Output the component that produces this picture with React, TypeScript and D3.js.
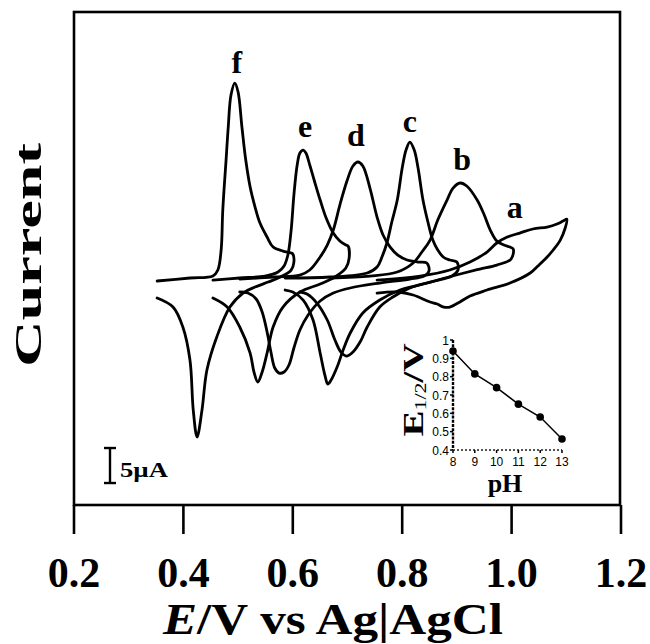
import React from "react";
import * as d3 from "d3";

// potential (V) and current (µA), forward scan then reverse scan
const aE = [0.754, 0.833, 0.887, 0.924, 0.955, 0.973, 0.992, 1.015, 1.039, 1.065, 1.083, 1.094, 1.101,
  1.098, 1.089, 1.076, 1.065, 1.048, 1.034, 0.997, 0.955, 0.924, 0.902, 0.887, 0.876, 0.864, 0.851, 0.82, 0.791, 0.754];
const aI = [0, 0.57, 1.43, 2.57, 4.0, 5.29, 6.14, 6.71, 7.29, 7.57, 8.0, 8.43, 8.71,
  7.43, 5.71, 4.29, 3.29, 2.0, 1.0, -0.43, -1.43, -2.29, -3.29, -3.86, -3.86, -3.43, -3.14, -2.14, -1.71, -1.86];

const bE = [0.668, 0.741, 0.791, 0.82, 0.836, 0.851, 0.865, 0.882, 0.893, 0.906, 0.918, 0.937, 0.95, 0.961, 0.973, 0.986, 0.997, 1.003,
  0.999, 0.973, 0.942, 0.906, 0.851, 0.814, 0.783, 0.759, 0.736, 0.723, 0.71, 0.699, 0.688, 0.677, 0.663, 0.644, 0.626, 0.613];
const bI = [0.29, 0.57, 1.14, 2.43, 4.0, 5.71, 8.57, 11.43, 13.14, 13.86, 13.43, 11.43, 9.29, 7.14, 5.57, 5.0, 4.71, 4.43,
  3.0, 2.14, 1.57, 0.86, -0.29, -1.14, -2.43, -3.86, -6.71, -8.86, -10.29, -10.86, -10.29, -8.57, -5.71, -3.29, -2.0, -1.71];

const cE = [0.586, 0.668, 0.736, 0.754, 0.763, 0.772, 0.781, 0.791, 0.8, 0.807, 0.814, 0.822, 0.829, 0.838, 0.847, 0.856, 0.865, 0.875, 0.887, 0.9,
  0.902, 0.891, 0.86, 0.823, 0.796, 0.759, 0.728, 0.705, 0.692, 0.681, 0.67, 0.664, 0.659, 0.65, 0.637, 0.619, 0.6, 0.586];
const cI = [0.29, 0.43, 1.0, 1.86, 3.29, 5.29, 8.29, 11.43, 16.0, 18.57, 19.71, 18.57, 16.0, 11.43, 8.29, 5.71, 4.29, 3.29, 2.86, 2.57,
  1.43, 0.57, -0.14, -0.86, -1.43, -2.86, -4.71, -7.57, -10.0, -12.43, -14.29, -14.86, -13.71, -10.43, -5.71, -2.86, -1.71, -1.43];

const dE = [0.503, 0.567, 0.613, 0.631, 0.65, 0.663, 0.674, 0.686, 0.699, 0.71, 0.719, 0.728, 0.741, 0.754, 0.765, 0.778, 0.792, 0.809, 0.829, 0.845,
  0.849, 0.84, 0.814, 0.759, 0.705, 0.674, 0.65, 0.628, 0.613, 0.602, 0.593, 0.584, 0.575, 0.567, 0.56, 0.553, 0.544, 0.533, 0.518, 0.503];
const dI = [0.14, 0.43, 0.71, 1.43, 3.29, 5.0, 7.14, 10.71, 14.14, 16.29, 16.86, 16.29, 13.14, 9.0, 6.43, 4.71, 3.57, 2.86, 2.57, 2.43,
  1.29, 0.57, 0.14, -0.43, -1.14, -1.86, -3.0, -5.0, -7.14, -9.71, -12.14, -13.14, -13.29, -12.57, -10.29, -7.43, -4.57, -2.71, -1.86, -1.71];

const eE = [0.454, 0.503, 0.549, 0.573, 0.584, 0.591, 0.597, 0.602, 0.608, 0.613, 0.619, 0.624, 0.631, 0.639, 0.65, 0.661, 0.674, 0.686, 0.697, 0.701,
  0.703, 0.697, 0.677, 0.65, 0.613, 0.582, 0.564, 0.553, 0.544, 0.536, 0.529, 0.522, 0.503, 0.48, 0.454];
const eI = [0, 0.29, 0.57, 1.14, 2.0, 3.57, 7.14, 12.14, 16.43, 18.14, 18.57, 18.14, 16.43, 14.29, 11.43, 8.86, 6.71, 5.57, 5.0, 4.86,
  3.14, 1.71, 0.43, -0.57, -1.71, -3.86, -6.71, -10.43, -13.14, -14.57, -13.14, -10.43, -6.71, -3.86, -2.57];

const fE = [0.352, 0.412, 0.454, 0.463, 0.469, 0.472, 0.478, 0.482, 0.487, 0.494, 0.5, 0.507, 0.514, 0.522, 0.531, 0.54, 0.553, 0.564, 0.582, 0.597, 0.6,
  0.602, 0.597, 0.577, 0.555, 0.531, 0.509, 0.485, 0.461, 0.443, 0.434, 0.425, 0.418, 0.412, 0.399, 0.381, 0.352];
const fI = [-0.14, 0.29, 0.57, 1.43, 4.29, 10.0, 17.14, 21.86, 26.43, 28.14, 26.86, 21.86, 17.14, 13.29, 10.43, 8.14, 6.14, 4.71, 4.14, 3.86, 3.71,
  2.57, 1.43, 0.43, -0.29, -1.0, -1.86, -3.86, -8.14, -12.86, -18.57, -22.43, -18.57, -11.43, -6.71, -3.86, -2.57];

const curveNames = ["a", "b", "c", "d", "e", "f"];
const curveE = [aE, bE, cE, dE, eE, fE];
const curveI = [aI, bI, cI, dI, eI, fI];

const xTicks = [0.2, 0.4, 0.6, 0.8, 1.0, 1.2];
const scaleBarValue = 5; // µA

// inset: half-wave potential vs pH
const insetPH = [8, 9, 10, 11, 12, 13];
const insetE12 = [0.94, 0.815, 0.74, 0.65, 0.58, 0.46];
const insetYTicks = [0.4, 0.5, 0.6, 0.7, 0.8, 0.9, 1];

const serif = "'Liberation Serif', 'Times New Roman', serif";
const sans = "'Liberation Sans', Arial, sans-serif";

const App = () => {
  const x = d3.scaleLinear().domain([0.2, 1.2]).range([74, 621]);
  const y = d3.scaleLinear().domain([-32.14, 38.29]).range([505, 12]);

  const line = d3
    .line<[number, number]>()
    .x((d) => x(d[0]))
    .y((d) => y(d[1]))
    .curve(d3.curveCatmullRom.alpha(0.5));

  // label offsets next to each peak
  const labelShift: Record<string, [number, number]> = {
    a: [-52, -1],
    b: [2, -13],
    c: [0, -10],
    d: [-2, -16],
    e: [2, -13],
    f: [2, -10],
  };

  const ix = d3.scaleLinear().domain([8, 13]).range([453, 562]);
  const iy = d3.scaleLinear().domain([0.4, 1]).range([450, 340]);
  const insetLine = d3
    .line<number>()
    .x((_, i) => ix(insetPH[i]))
    .y((d) => iy(d));

  const barBase = -29;

  return (
    <svg
      width={650}
      height={644}
      style={{ position: "absolute", left: 0, top: 0, background: "#fff" }}
    >
      <rect x={0} y={0} width={650} height={644} fill="#fff" />

      {/* curves */}
      {curveNames.map((name, k) => {
        const pts = curveE[k].map((e, i) => [e, curveI[k][i]] as [number, number]);
        return (
          <path
            key={name}
            d={line(pts) || ""}
            fill="none"
            stroke="#000"
            strokeWidth={2.8}
            strokeLinejoin="round"
            strokeLinecap="round"
          />
        );
      })}

      {/* curve labels */}
      {curveNames.map((name, k) => {
        const imax = d3.maxIndex(curveI[k]);
        const [dx, dy] = labelShift[name];
        return (
          <text
            key={"l" + name}
            x={x(curveE[k][imax]) + dx}
            y={y(curveI[k][imax]) + dy}
            textAnchor="middle"
            fontFamily={serif}
            fontWeight="bold"
            fontSize={32}
          >
            {name}
          </text>
        );
      })}

      {/* frame */}
      <rect x={74} y={12} width={546} height={493} fill="none" stroke="#000" strokeWidth={2.6} />

      {/* x ticks */}
      {xTicks.map((t) => (
        <g key={t}>
          <line x1={x(t)} x2={x(t)} y1={505} y2={534} stroke="#000" strokeWidth={2.6} />
          <text
            x={x(t)}
            y={587}
            textAnchor="middle"
            fontFamily={serif}
            fontWeight="bold"
            fontSize={42}
          >
            {t.toFixed(1)}
          </text>
        </g>
      ))}

      {/* axis titles */}
      <text
        x={333}
        y={634}
        textAnchor="middle"
        fontFamily={serif}
        fontWeight="bold"
        fontSize={44}
        textLength={340}
        lengthAdjust="spacingAndGlyphs"
      >
        <tspan fontStyle="italic">E</tspan>/V vs Ag|AgCl
      </text>
      <text
        transform="translate(41,255) rotate(-90)"
        textAnchor="middle"
        fontFamily={serif}
        fontWeight="bold"
        fontSize={38}
        textLength={224}
        lengthAdjust="spacingAndGlyphs"
      >
        Current
      </text>

      {/* scale bar */}
      <g stroke="#000" strokeWidth={2.4}>
        <line x1={110} x2={110} y1={y(barBase)} y2={y(barBase + scaleBarValue)} />
        <line x1={104} x2={116} y1={y(barBase)} y2={y(barBase)} />
        <line x1={104} x2={116} y1={y(barBase + scaleBarValue)} y2={y(barBase + scaleBarValue)} />
      </g>
      <text
        x={120}
        y={477}
        fontFamily={serif}
        fontWeight="bold"
        fontSize={22}
        textLength={48}
        lengthAdjust="spacingAndGlyphs"
      >
        5µA
      </text>

      {/* inset */}
      <g>
        <line x1={453} x2={453} y1={340} y2={450} stroke="#000" strokeWidth={2.4} strokeDasharray="3,1.2" />
        <line x1={453} x2={562} y1={450} y2={450} stroke="#555" strokeWidth={1.8} strokeDasharray="2,2" />
        {insetYTicks.map((t) => (
          <g key={"iy" + t}>
            <line x1={450} x2={453} y1={iy(t)} y2={iy(t)} stroke="#000" strokeWidth={1.5} />
            <text
              x={449}
              y={iy(t) + 4.5}
              textAnchor="end"
              fontFamily={sans}
              fontSize={12}
            >
              {t === 1 ? "1" : t.toFixed(1)}
            </text>
          </g>
        ))}
        {insetPH.map((t) => (
          <g key={"ix" + t}>
            <line x1={ix(t)} x2={ix(t)} y1={450} y2={453} stroke="#000" strokeWidth={1.5} />
            <text x={ix(t)} y={466} textAnchor="middle" fontFamily={sans} fontSize={12}>
              {t}
            </text>
          </g>
        ))}
        <path d={insetLine(insetE12) || ""} fill="none" stroke="#000" strokeWidth={1.5} />
        {insetE12.map((v, i) => (
          <circle key={"p" + i} cx={ix(insetPH[i])} cy={iy(v)} r={3.8} fill="#000" />
        ))}
        <text
          x={505}
          y={492}
          textAnchor="middle"
          fontFamily={serif}
          fontWeight="bold"
          fontSize={26}
        >
          pH
        </text>
        <text
          transform="translate(423,390) rotate(-90) scale(1.3,1)"
          textAnchor="middle"
          fontFamily={serif}
          fontWeight="bold"
          fontSize={30}
        >
          E
          <tspan fontSize={17} fontWeight="normal" dy={3}>
            1/2
          </tspan>
          <tspan dy={-3}>/V</tspan>
        </text>
      </g>
    </svg>
  );
};

export default App;
